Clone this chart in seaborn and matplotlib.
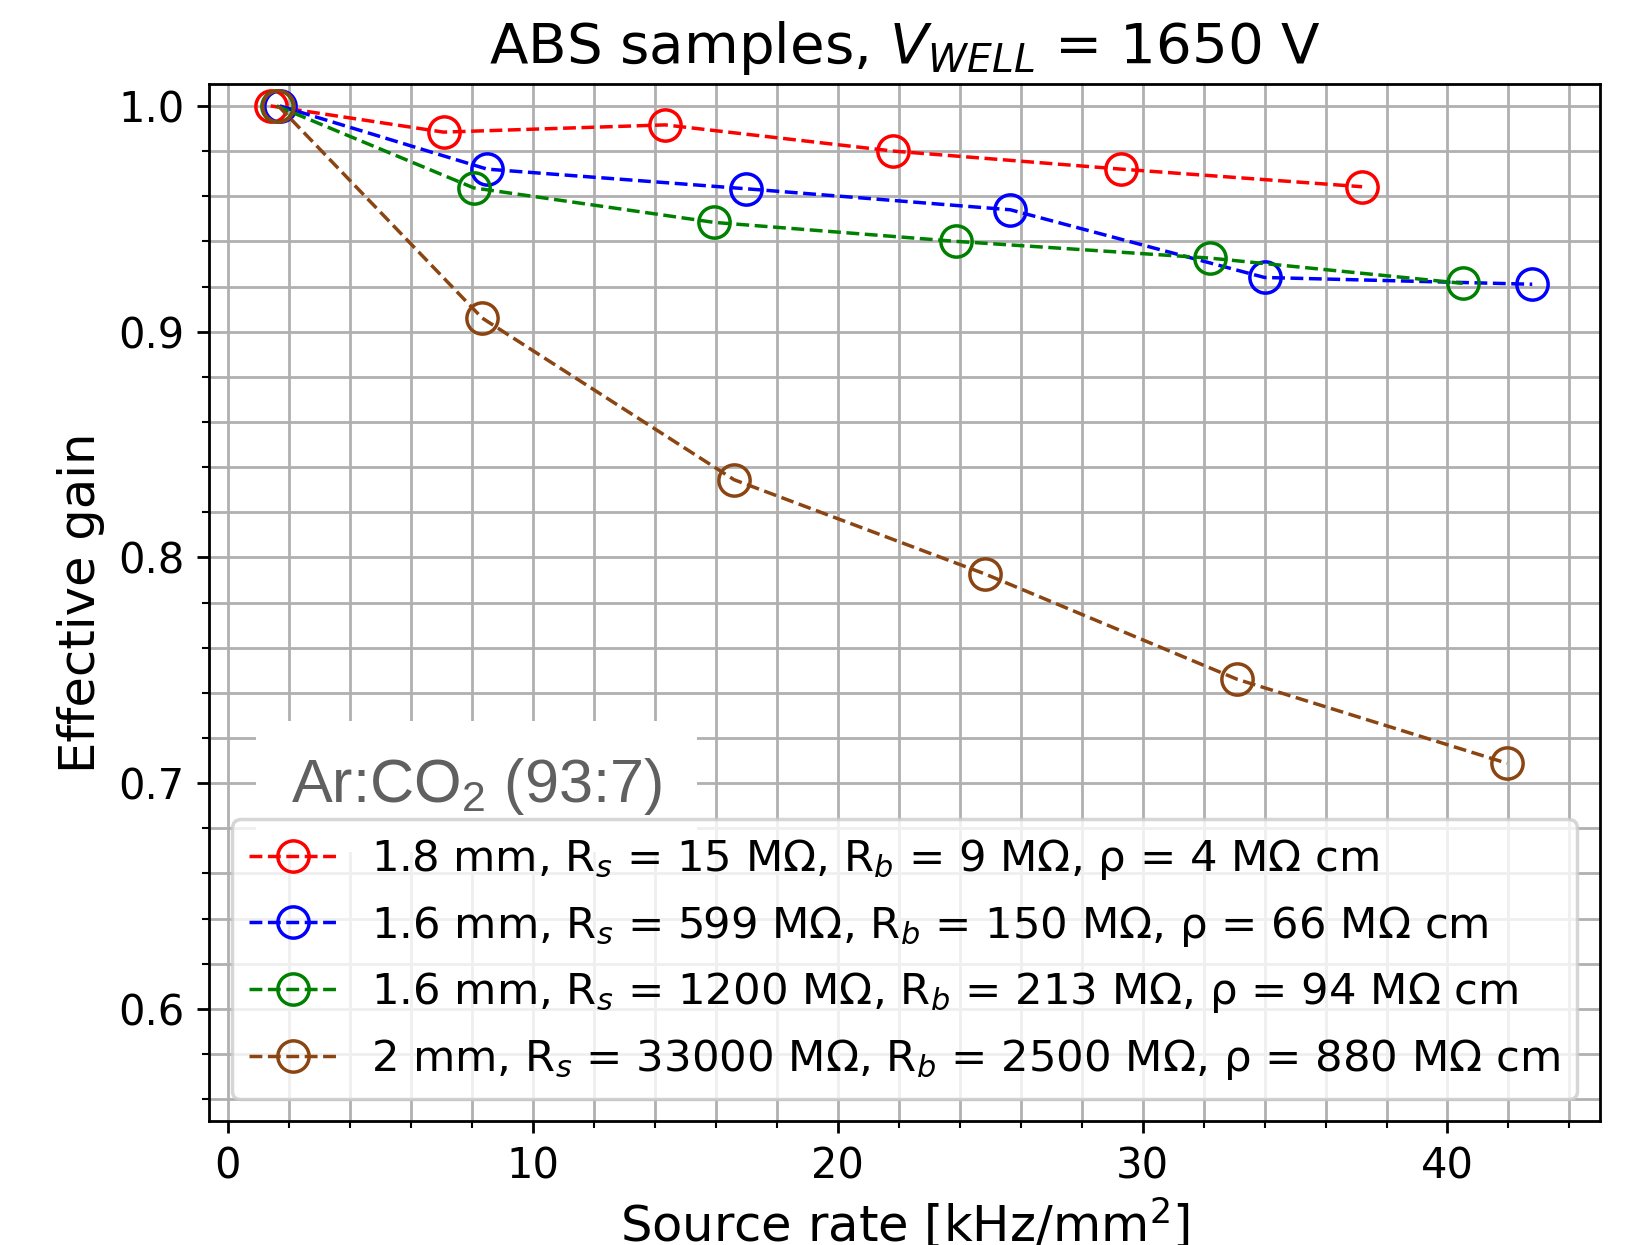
import matplotlib
matplotlib.use("Agg")
import matplotlib.pyplot as plt
from matplotlib.ticker import MultipleLocator
import seaborn as sns
import pandas as pd

# ---- data ----
labels = [
    "1.8 mm, R$_s$ = 15 MΩ, R$_b$ = 9 MΩ, ρ = 4 MΩ cm",
    "1.6 mm, R$_s$ = 599 MΩ, R$_b$ = 150 MΩ, ρ = 66 MΩ cm",
    "1.6 mm, R$_s$ = 1200 MΩ, R$_b$ = 213 MΩ, ρ = 94 MΩ cm",
    "2 mm, R$_s$ = 33000 MΩ, R$_b$ = 2500 MΩ, ρ = 880 MΩ cm",
]
colors = ["red", "blue", "green", "#8B4513"]

rate_red = [1.4, 7.07, 14.34, 21.82, 29.3, 37.2]
gain_red = [1.0, 0.9884, 0.9916, 0.980, 0.972, 0.9642]

rate_blue = [1.7, 8.5, 17.0, 25.66, 34.0, 42.78]
gain_blue = [1.0, 0.972, 0.9633, 0.954, 0.924, 0.921]

rate_green = [1.6, 8.06, 15.95, 23.88, 32.2, 40.5]
gain_green = [1.0, 0.9637, 0.9484, 0.940, 0.9326, 0.9214]

rate_brown = [1.65, 8.34, 16.6, 24.84, 33.1, 41.95]
gain_brown = [1.0, 0.906, 0.8344, 0.7926, 0.746, 0.7088]

rates = [rate_red, rate_blue, rate_green, rate_brown]
gains = [gain_red, gain_blue, gain_green, gain_brown]

title = "ABS samples, $V_{WELL}$ = 1650 V"
xlabel = "Source rate [kHz/mm$^2$]"
ylabel = "Effective gain"
gas_text = "Ar:CO$_2$ (93:7)"

# ---- figure ----
plt.rcParams["mathtext.rm"] = "Liberation Sans"
plt.rcParams["mathtext.it"] = "Liberation Sans:italic"
plt.rcParams["mathtext.bf"] = "Liberation Sans:bold"

fig = plt.figure(figsize=(6.58, 4.98), dpi=250)
ax = fig.add_axes([0.1271, 0.0996, 0.9726 - 0.1271, 0.9325 - 0.0996])

for r, g, lab, c in zip(rates, gains, labels, colors):
    df = pd.DataFrame({"rate": r, "gain": g})
    sns.lineplot(data=df, x="rate", y="gain", ax=ax, color=c, sort=False,
                 estimator=None, linestyle="--", linewidth=1.0,
                 marker="o", markersize=9, markerfacecolor="none",
                 markeredgecolor=c, markeredgewidth=1.0, label=lab)

ax.set_xlim(-0.62, 45.0)
ax.set_ylim(0.5503, 1.0097)
ax.xaxis.set_major_locator(MultipleLocator(10))
ax.xaxis.set_minor_locator(MultipleLocator(2))
ax.yaxis.set_major_locator(MultipleLocator(0.1))
ax.yaxis.set_minor_locator(MultipleLocator(0.02))
ax.grid(which="both", color="#b0b0b0", linewidth=0.8)
ax.tick_params(axis="both", which="major", labelsize=12)

ax.set_title(title, fontsize=16.2)
ax.set_xlabel(xlabel, fontsize=14.3, labelpad=2.5)
ax.set_ylabel(ylabel, fontsize=14.3)

ax.text(0.059, 0.3076, gas_text, transform=ax.transAxes, ha="left",
        va="baseline", fontsize=17.6, color="#606060",
        family="Liberation Sans", math_fontfamily="custom",
        bbox=dict(boxstyle="square,pad=0.58", facecolor="white",
                  edgecolor="none"), zorder=3)

ax.legend(loc="lower center", fontsize=12.5)

fig.savefig("out.png", dpi=250)
